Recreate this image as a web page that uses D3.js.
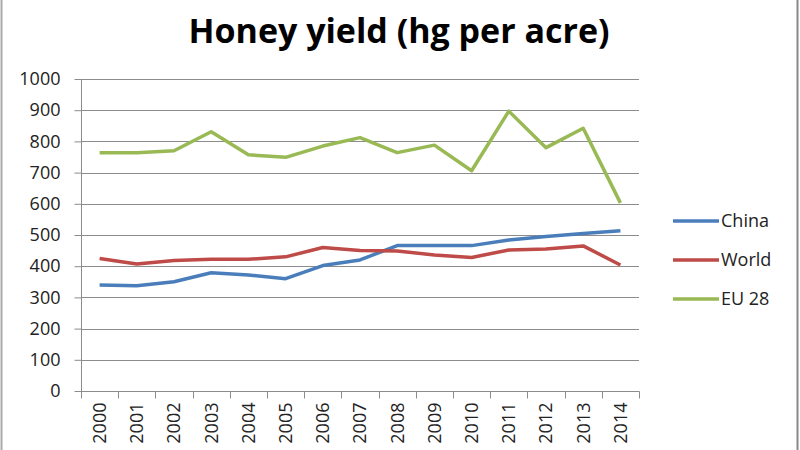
<!DOCTYPE html>
<html><head><meta charset="utf-8">
<script src="https://cdn.jsdelivr.net/npm/d3@7"></script>
<style>body{margin:0;background:#fff}svg{display:block}</style>
</head><body>
<script>
const years = ["2000","2001","2002","2003","2004","2005","2006","2007","2008","2009","2010","2011","2012","2013","2014"];
const china = [340,337,350,379,372,360,402,420,466,466,466,484,495,505,514];
const world = [425,407,418,422,422,430,460,450,449,436,428,452,455,465,404];
const eu28  = [764,764,770,831,757,749,785,812,764,788,706,897,780,842,603];
const yTicks = [0,100,200,300,400,500,600,700,800,900,1000];
const seriesNames = ["China","World","EU 28"];
const colors = ["#4A7EBB","#BE4B48","#98B954"];
const seriesValues = [china, world, eu28];

const W=800,H=450;
const svg=d3.select("body").append("svg").attr("width",W).attr("height",H);
const font="'Open Sans', sans-serif";

// chart border (left and right visible)
svg.append("line").attr("x1",1.5).attr("x2",1.5).attr("y1",0).attr("y2",H).attr("stroke","#aaa").attr("stroke-width",2);
svg.append("line").attr("x1",797.5).attr("x2",797.5).attr("y1",0).attr("y2",H).attr("stroke","#888").attr("stroke-width",2);

const x=d3.scaleBand().domain(years).range([81,639]);
const y=d3.scaleLinear().domain([0,1000]).range([391,79]);

// gridlines
svg.append("g").selectAll("line").data(yTicks.filter(d=>d>0)).join("line")
  .attr("x1",81).attr("x2",639).attr("y1",d=>Math.round(y(d))+0.5).attr("y2",d=>Math.round(y(d))+0.5)
  .attr("stroke","#8c8c8c").attr("stroke-width",1);

// y axis
const ya=svg.append("g").attr("transform","translate(81.5,0)")
  .call(d3.axisLeft(y).tickValues(yTicks).tickSize(7).tickPadding(14).tickFormat(d3.format("d")));
ya.select(".domain").attr("stroke","#8c8c8c").attr("d","M0,79V391.5");
ya.selectAll(".tick line").attr("stroke","#8c8c8c");
ya.selectAll("text").attr("font-family",font).attr("font-size",18).attr("fill","#222");

// x axis
const xa=svg.append("g").attr("transform","translate(0,391.5)")
  .call(d3.axisBottom(x).tickSize(0).tickPadding(0));
xa.select(".domain").attr("stroke","#8c8c8c").attr("d","M81,0H639.5");
xa.selectAll(".tick line").remove();
// tick marks at band boundaries
const bounds=years.map(d=>x(d)).concat([x.range()[1]]);
xa.append("g").selectAll("line").data(bounds).join("line")
  .attr("x1",d=>Math.round(d)+0.5).attr("x2",d=>Math.round(d)+0.5).attr("y1",0).attr("y2",7)
  .attr("stroke","#8c8c8c");
xa.selectAll(".tick text")
  .attr("font-family",font).attr("font-size",18).attr("fill","#222")
  .attr("transform","rotate(-90)").attr("text-anchor","end")
  .attr("x",-11).attr("y",0).attr("dy","0.35em");

// lines
const line=d3.line().x((d,i)=>x(years[i])+x.bandwidth()/2).y(d=>y(d));
seriesValues.forEach((vals,k)=>{
  svg.append("path").datum(vals).attr("d",line).attr("fill","none")
    .attr("stroke",colors[k]).attr("stroke-width",3.5).attr("stroke-linejoin","round");
});

// legend
const legY=[221,260,299];
seriesNames.forEach((n,k)=>{
  svg.append("line").attr("x1",673).attr("x2",719).attr("y1",legY[k]).attr("y2",legY[k])
    .attr("stroke",colors[k]).attr("stroke-width",3.5);
  svg.append("text").attr("x",721).attr("y",legY[k]).attr("dy","0.35em")
    .attr("font-family",font).attr("font-size",18).attr("fill","#222").text(n);
});

// title
svg.append("text").attr("x",399).attr("y",43).attr("text-anchor","middle")
  .attr("font-family",font).attr("font-weight","bold").attr("font-size",34).attr("fill","#000")
  .text("Honey yield (hg per acre)");
</script>
</body></html>
